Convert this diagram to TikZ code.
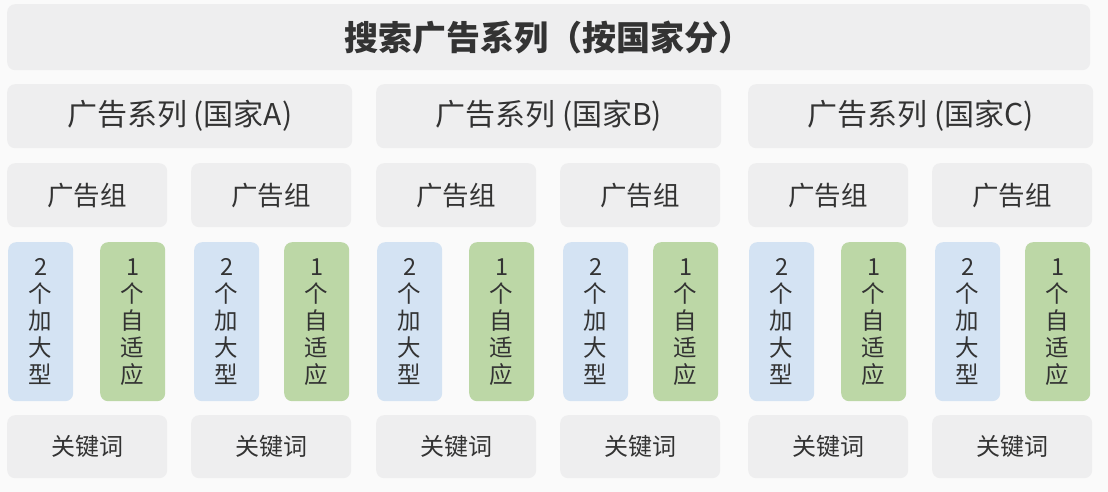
\documentclass[tikz,border=0pt]{standalone}
\usepackage{fontspec}
\setmainfont{Noto Sans CJK SC}
\definecolor{bgcol}{HTML}{FAFAFA}
\definecolor{boxgray}{HTML}{EEEEEF}
\definecolor{barblue}{HTML}{D4E3F3}
\definecolor{bargreen}{HTML}{BCD7A6}
\definecolor{txt}{HTML}{333333}
\tikzset{
  box/.style={fill=boxgray, rounded corners=8pt, inner sep=0pt, text=txt, anchor=north west},
  bluebar/.style={box, fill=barblue, minimum width=65pt, minimum height=159pt, align=center, font=\fontsize{23.5}{27}\selectfont},
  greenbar/.style={box, fill=bargreen, minimum width=65pt, minimum height=159pt, align=center, font=\fontsize{23.5}{27}\selectfont},
  campbox/.style={box, minimum width=345pt, minimum height=64pt, font=\fontsize{30}{33}\selectfont},
  groupbox/.style={box, minimum width=160pt, minimum height=64pt, font=\fontsize{26.5}{29}\selectfont},
  kwbox/.style={box, minimum width=160pt, minimum height=63pt, font=\fontsize{24}{27}\selectfont}
}
\begin{document}
\begin{tikzpicture}[x=1pt,y=-1pt]
\fill[bgcol] (0,0) rectangle (1108,492);
\node[box, minimum width=1083pt, minimum height=66pt, font=\fontsize{34}{37}\selectfont\bfseries] (title) at (7,4) {搜索广告系列（按国家分）};
\foreach \c/\o in {A/0, B/369, C/741} {
  \node[campbox] (camp\c) at (7+\o,84) {广告系列 (国家\c)};
  \node[groupbox] (grp\c1) at (7+\o,163) {广告组};
  \node[groupbox] (grp\c2) at (7+\o+184,163) {广告组};
  \node[bluebar] (big\c1) at (7+\o+1,242) {2\\个\\加\\大\\型};
  \node[greenbar] (ada\c1) at (7+\o+93,242) {1\\个\\自\\适\\应};
  \node[bluebar] (big\c2) at (7+\o+187,242) {2\\个\\加\\大\\型};
  \node[greenbar] (ada\c2) at (7+\o+277,242) {1\\个\\自\\适\\应};
  \node[kwbox] (kw\c1) at (7+\o,415) {关键词};
  \node[kwbox] (kw\c2) at (7+\o+184,415) {关键词};
}
\end{tikzpicture}
\end{document}
